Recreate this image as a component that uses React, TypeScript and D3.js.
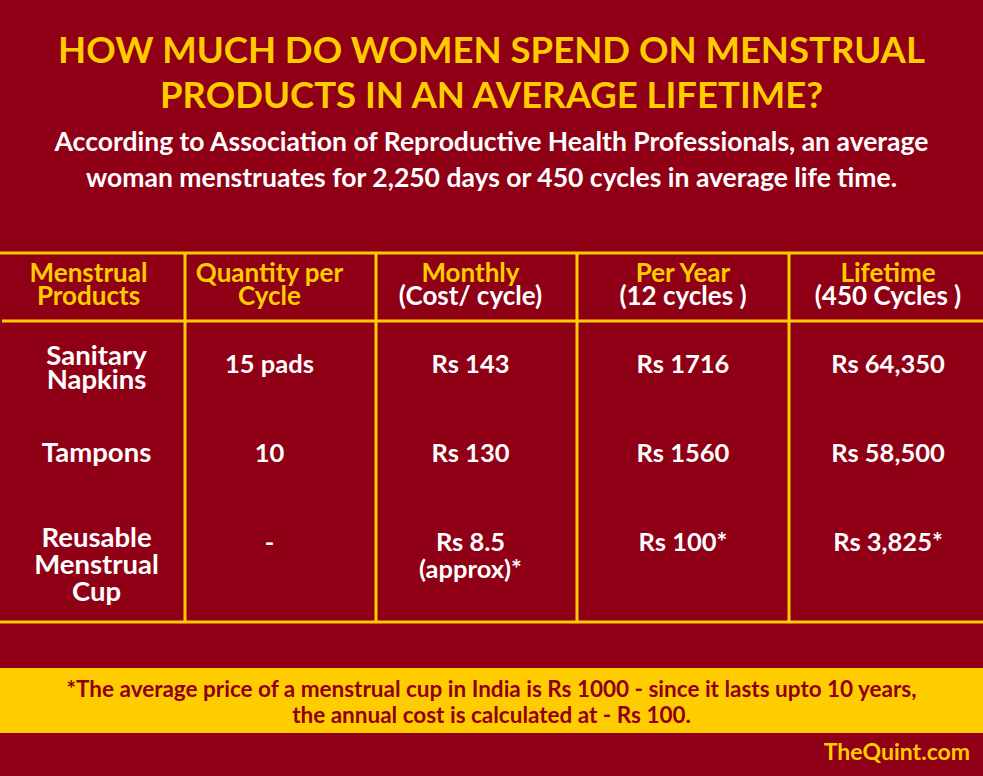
import React from 'react';
import * as d3 from 'd3';

const W = 983;
const H = 776;

const titleLines = ['HOW MUCH DO WOMEN SPEND ON MENSTRUAL', 'PRODUCTS IN AN AVERAGE LIFETIME?'];
const subtitleLines = [
  'According to Association of Reproductive Health Professionals, an average',
  'woman menstruates for 2,250 days or 450 cycles in average life time.',
];

const headerTop = ['Menstrual', 'Quantity per', 'Monthly', 'Per Year', 'Lifetime'];
const headerBottom = ['Products', 'Cycle', '(Cost/ cycle)', '(12 cycles )', '(450 Cycles )'];

const products = [['Sanitary', 'Napkins'], ['Tampons'], ['Reusable', 'Menstrual', 'Cup']];
const quantity = [['15 pads'], ['10'], ['-']];
const monthly = [['Rs 143'], ['Rs 130'], ['Rs 8.5', '(approx)*']];
const perYear = [['Rs 1716'], ['Rs 1560'], ['Rs 100*']];
const lifetime = [['Rs 64,350'], ['Rs 58,500'], ['Rs 3,825*']];

const footnote = [
  '*The average price of a menstrual cup in India is Rs 1000 - since it lasts upto 10 years,',
  'the annual cost is calculated at - Rs 100.',
];

const RED = '#8f0016';
const YELLOW = '#ffcc00';
const FONT = 'Lato, "Open Sans", sans-serif';

// column boundaries of the table
const colEdges = [0, 185, 376, 577, 789, W];
const colShift = [4, -11, -6, 0, 2];
const columns = [products, quantity, monthly, perYear, lifetime];

const x = d3.scaleOrdinal<number, number>()
  .domain(d3.range(columns.length))
  .range(d3.range(columns.length).map(i => (colEdges[i] + colEdges[i + 1]) / 2 + colShift[i]));

const rowY = d3.scalePoint<number>()
  .domain(d3.range(products.length))
  .range([373, 551]);

const tableTop = 253;
const headBottom = 321;
const tableBottom = 622;

export default function App() {
  return (
    <div style={{ position: 'fixed', left: 0, top: 0 }}>
      <svg width={W} height={H} style={{ display: 'block' }} fontFamily={FONT} fontWeight={700}>
        <rect width={W} height={H} fill={RED} />

        {titleLines.map((t, i) => (
          <text key={t} x={W / 2} y={63 + i * 45} textAnchor="middle" fill={YELLOW} fontSize={36.5}>
            {t}
          </text>
        ))}
        {subtitleLines.map((t, i) => (
          <text key={t} x={W / 2} y={151 + i * 36} textAnchor="middle" fill="#fff" fontSize={26.5}>
            {t}
          </text>
        ))}

        {/* grid */}
        <g stroke={YELLOW} strokeWidth={3}>
          <line x1={0} x2={W} y1={tableTop} y2={tableTop} />
          <line x1={2} x2={W} y1={headBottom} y2={headBottom} />
          <line x1={0} x2={W} y1={tableBottom} y2={tableBottom} />
          {colEdges.slice(1, -1).map(cx => (
            <line key={cx} x1={cx} x2={cx} y1={tableTop} y2={tableBottom} />
          ))}
        </g>

        {/* header */}
        {headerTop.map((t, i) => (
          <g key={t} textAnchor="middle" fontSize={26}>
            <text x={x(i) - (i === 0 ? 8 : 0)} y={282} fill={YELLOW}>{t}</text>
            <text x={x(i) - (i === 0 ? 8 : 0)} y={305} fill={i < 2 ? YELLOW : '#fff'}>{headerBottom[i]}</text>
          </g>
        ))}

        {/* body */}
        {columns.map((col, ci) =>
          col.map((cell, ri) => {
            const first = ci === 0 ? (cell.length === 2 ? -8 : cell.length === 3 ? -4 : 0) : 0;
            return (
              <text key={`${ci}-${ri}`} x={x(ci)} y={rowY(ri)} textAnchor="middle" fill="#fff"
                fontSize={ci === 0 ? 27.5 : 25.5}>
                {cell.map((line, li) => (
                  <tspan key={li} x={x(ci)} dy={li === 0 ? first : ci === 0 && ri === 0 ? 24 : 27}>
                    {line}
                  </tspan>
                ))}
              </text>
            );
          })
        )}

        {/* footnote band */}
        <rect x={0} y={668} width={W} height={65} fill={YELLOW} />
        {footnote.map((t, i) => (
          <text key={t} x={W / 2} y={697 + i * 26} textAnchor="middle" fill={RED} fontSize={22.5}>
            {t}
          </text>
        ))}
        <text x={970} y={760} textAnchor="end" fill={YELLOW} fontSize={23}>TheQuint.com</text>
      </svg>
    </div>
  );
}
